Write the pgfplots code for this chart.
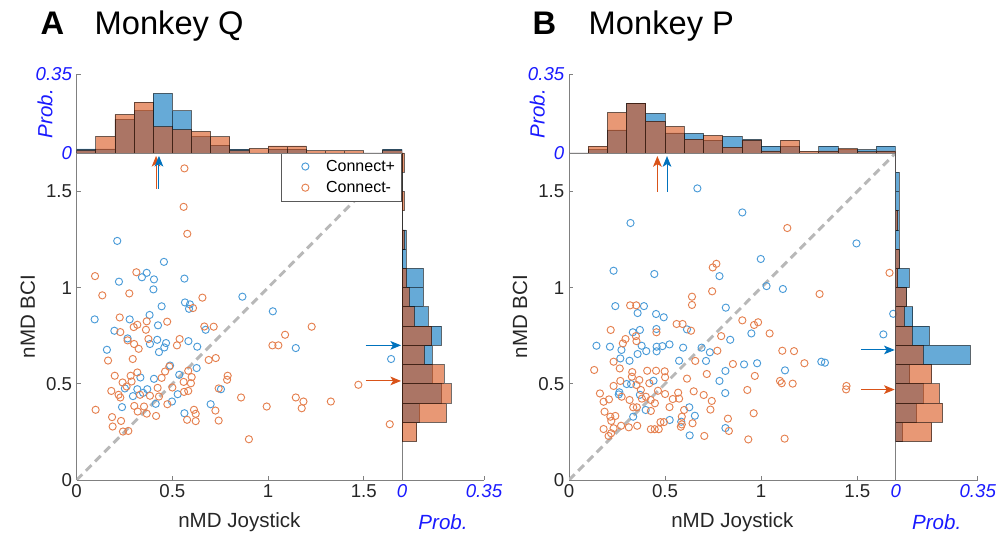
\documentclass[border=0pt]{standalone}
\usepackage{pgfplots}
\pgfplotsset{compat=1.18}
\usepackage{fontspec}
\setmainfont{Liberation Sans}
\usetikzlibrary{arrows.meta}
\definecolor{mblue}{rgb}{0,0.447,0.741}
\definecolor{morange}{rgb}{0.85,0.325,0.098}
\definecolor{sblue}{HTML}{4A9BD8}
\definecolor{sorange}{HTML}{E5804F}
\definecolor{pblue}{HTML}{1A1AFF}
\definecolor{axgray}{HTML}{808080}
\definecolor{txt}{HTML}{262626}

\pgfplotsset{
  every non boxed x axis/.style={enlarge x limits=false},
  every non boxed y axis/.style={enlarge y limits=false},
  base/.style={scale only axis, anchor=south west,
    axis x line=bottom, axis y line=left,
    tick align=inside, major tick length=3pt,
    axis line style={axgray, line width=0.6pt},
    x axis line style={-}, y axis line style={-},
    tick style={axgray, line width=0.6pt},
    /pgf/number format/assume math mode=true,
    ticklabel style={font=\fontsize{14}{16}\selectfont, text=txt},
  },
  main/.style={base, width=244pt, height=245.25pt, xmin=0,xmax=1.7,ymin=0,ymax=1.7,
    xtick={0,0.5,1,1.5}, ytick={0,0.5,1,1.5},
    xticklabels={0,0.5,1,1.5}, yticklabels={0,0.5,1,1.5},
    xlabel={nMD Joystick}, ylabel={nMD BCI},
    every axis x label/.style={at={(axis description cs:0.5,-0.128)}, anchor=center,
      font=\fontsize{15.4}{18}\selectfont, text=txt},
    every axis y label/.style={at={(axis description cs:-0.15,0.5)}, rotate=90, anchor=center,
      font=\fontsize{15.4}{18}\selectfont, text=txt},
  },
  tophist/.style={base, width=244pt, height=59.25pt, xmin=0,xmax=1.7,ymin=0,ymax=0.35,
    xtick=\empty, ytick={0,0.35}, yticklabels={0,0.35},
    yticklabel style={font=\itshape\fontsize{14}{16}\selectfont, text=pblue},
    ylabel={Prob.},
    every axis y label/.style={at={(axis description cs:-0.097,0.5)}, rotate=90, anchor=center,
      font=\itshape\fontsize{15.4}{18}\selectfont, text=pblue},
  },
  righthist/.style={base, width=61.5pt, height=245.25pt, xmin=0,xmax=0.35,ymin=0,ymax=1.7,
    ytick=\empty, xtick={0,0.35}, xticklabels={0,0.35},
    xticklabel style={font=\itshape\fontsize{14}{16}\selectfont, text=pblue},
    xlabel={Prob.},
    every axis x label/.style={at={(axis description cs:0.5,-0.13)}, anchor=center,
      font=\itshape\fontsize{15.4}{18}\selectfont, text=pblue},
  },
  hb/.style={fill=mblue, fill opacity=0.6, draw=black, draw opacity=0.55, line width=0.6pt},
  ho/.style={fill=morange, fill opacity=0.6, draw=black, draw opacity=0.55, line width=0.6pt},
  sb/.style={only marks, mark=o, mark size=2.7pt, sblue, mark options={line width=0.7pt}},
  so/.style={only marks, mark=o, mark size=2.7pt, sorange, mark options={line width=0.7pt}},
  diag/.style={forget plot, black!28, line width=2.2pt, dash pattern=on 6pt off 3.8pt},
  arr/.style={forget plot, line width=0.75pt, -{Stealth[length=8pt,width=6.5pt,inset=2pt]}},
}

\begin{document}
\begin{tikzpicture}
\path[use as bounding box] (0,0) rectangle (752.25pt,404.25pt);

% ===== Panel A =====
\node[anchor=base west, font=\bfseries\fontsize{24.5}{28}\selectfont] at (27pt,378.5pt) {A};
\node[anchor=base west, font=\fontsize{24.5}{28}\selectfont] at (67.5pt,378.5pt) {Monkey Q};

\begin{axis}[main, at={(57.5pt,44.25pt)},
  legend style={at={(1,1)}, anchor=north east, draw=black!65, fill=white,
    font=\fontsize{12}{14}\selectfont, row sep=2pt, inner xsep=3pt, inner ysep=3pt},
  legend image code/.code={\path (0cm,0cm) (1.0cm,0cm); \draw[#1] plot coordinates {(0.53cm,0cm)};},
  legend cell align=left]
\addplot[diag] coordinates {(0,0) (1.7,1.7)};
\addplot[sb] coordinates {
(0.212,1.243) (0.456,1.134) (0.221,1.031) (0.341,1.054) (0.366,1.077) (0.404,1.043)
(0.563,1.047) (0.401,0.991) (0.866,0.953) (0.444,0.903) (0.566,0.923) (0.592,0.913)
(0.587,0.89) (0.381,0.858) (1.025,0.877) (0.094,0.835) (0.277,0.835) (0.197,0.776)
(0.425,0.804) (0.266,0.736) (0.158,0.677) (0.674,0.781) (0.383,0.707) (0.421,0.729)
(0.467,0.712) (0.43,0.665) (0.458,0.689) (0.584,0.722) (0.63,0.693) (1.145,0.686)
(1.643,0.629) (0.488,0.595) (0.536,0.547) (0.627,0.582) (0.333,0.533) (0.404,0.526)
(0.252,0.476) (0.317,0.472) (0.369,0.472) (0.347,0.453) (0.294,0.436) (0.528,0.446)
(0.498,0.408) (0.413,0.396) (0.237,0.379) (0.754,0.472) (0.7,0.394) (0.563,0.347)
};
\addlegendentry{Connect+}
\addplot[so] coordinates {
(0.563,1.62) (0.559,1.42) (0.578,1.28) (0.096,1.06) (0.312,1.08) (0.134,0.96)
(0.275,0.97) (0.657,0.948) (0.608,0.894) (0.225,0.845) (0.366,0.825) (0.473,0.823)
(0.317,0.807) (0.298,0.795) (0.362,0.781) (0.228,0.769) (0.667,0.798) (0.716,0.797)
(1.228,0.797) (1.089,0.755) (1.023,0.7) (1.054,0.7) (0.266,0.726) (0.3,0.707)
(0.324,0.682) (0.375,0.733) (0.538,0.733) (0.524,0.7) (0.164,0.621) (0.293,0.629)
(0.69,0.624) (0.727,0.634) (0.199,0.542) (0.317,0.559) (0.282,0.542) (0.484,0.59)
(0.462,0.564) (0.444,0.531) (0.423,0.479) (0.583,0.568) (0.601,0.535) (0.559,0.51)
(0.597,0.503) (0.583,0.463) (0.561,0.458) (0.5,0.481) (0.789,0.542) (0.786,0.521)
(0.742,0.476) (0.24,0.507) (0.261,0.486) (0.287,0.512) (0.181,0.463) (0.219,0.443)
(0.228,0.429) (0.383,0.438) (0.331,0.443) (0.43,0.434) (0.301,0.385) (0.352,0.382)
(0.474,0.394) (0.099,0.365) (0.319,0.356) (0.366,0.345) (0.415,0.333) (0.185,0.327)
(0.232,0.307) (0.188,0.278) (0.242,0.252) (0.27,0.255) (0.613,0.365) (0.622,0.344)
(0.577,0.313) (0.622,0.306) (0.725,0.361) (0.742,0.309) (0.859,0.429) (0.993,0.382)
(0.9,0.212) (1.145,0.429) (1.185,0.408) (1.176,0.373) (1.328,0.408) (1.472,0.495)
(1.636,0.29)
};
\addlegendentry{Connect-}
\addplot[arr, morange] coordinates {(0.415,1.515) (0.415,1.685)};
\addplot[arr, mblue] coordinates {(0.43,1.515) (0.43,1.685)};
\addplot[arr, mblue] coordinates {(1.510,0.70) (1.695,0.70)};
\addplot[arr, morange] coordinates {(1.510,0.515) (1.695,0.515)};
\end{axis}

\begin{axis}[tophist, at={(57.5pt,289.5pt)}]
\addplot[ybar interval, hb] coordinates {
(0,0.018) (0.1,0.018) (0.2,0.149) (0.3,0.187) (0.4,0.264) (0.5,0.187) (0.6,0.073)
(0.7,0.035) (0.8,0.0175) (0.9,0) (1.0,0.0175) (1.1,0.0175) (1.2,0) (1.3,0) (1.4,0)
(1.5,0) (1.6,0.0175) (1.7,0.0175)};
\addplot[ybar interval, ho] coordinates {
(0,0.012) (0.1,0.074) (0.2,0.171) (0.3,0.225) (0.4,0.117) (0.5,0.104) (0.6,0.096)
(0.7,0.073) (0.8,0.01) (0.9,0.02) (1.0,0.031) (1.1,0.031) (1.2,0.01) (1.3,0.01) (1.4,0.01)
(1.5,0) (1.6,0.01) (1.7,0.01)};
\end{axis}

\begin{axis}[righthist, at={(301.5pt,44.25pt)}]
\addplot[xbar interval, hb] coordinates {
(0,0.2) (0.074,0.3) (0.169,0.4) (0.129,0.5) (0.129,0.6) (0.168,0.7) (0.112,0.8)
(0.091,0.9) (0.091,1.0) (0.0175,1.1) (0.0175,1.2) (0,1.3) (0,1.4) (0,1.5) (0,1.6) (0,1.7)};
\addplot[xbar interval, ho] coordinates {
(0.063,0.2) (0.189,0.3) (0.21,0.4) (0.179,0.5) (0.095,0.6) (0.127,0.7) (0.053,0.8)
(0.031,0.9) (0.02,1.0) (0,1.1) (0.01,1.2) (0,1.3) (0.01,1.4) (0,1.5) (0.01,1.6) (0.01,1.7)};
\end{axis}

% ===== Panel B =====
\node[anchor=base west, font=\bfseries\fontsize{24.5}{28}\selectfont] at (396pt,378.5pt) {B};
\node[anchor=base west, font=\fontsize{24.5}{28}\selectfont] at (438pt,378.5pt) {Monkey P};

\begin{axis}[main, at={(426.75pt,44.25pt)}, width=245pt]
\addplot[diag] coordinates {(0,0) (1.7,1.7)};
\addplot[sb] coordinates {
(0.668,1.516) (0.902,1.391) (0.32,1.336) (1.496,1.23) (0.998,1.149) (0.232,1.088)
(0.444,1.071) (0.783,1.06) (1.028,1.008) (1.113,0.993) (0.241,0.904) (0.39,0.904)
(0.357,0.868) (0.453,0.863) (0.493,0.846) (0.816,0.896) (1.687,0.864) (1.636,0.757)
(0.332,0.768) (0.369,0.78) (0.455,0.785) (0.614,0.783) (0.839,0.729) (0.949,0.762)
(0.143,0.698) (0.213,0.693) (0.273,0.676) (0.378,0.698) (0.402,0.67) (0.456,0.693)
(0.486,0.696) (0.523,0.705) (0.456,0.669) (0.594,0.688) (0.69,0.688) (0.733,0.664)
(0.315,0.62) (0.357,0.655) (0.573,0.62) (0.713,0.619) (0.911,0.601) (0.979,0.607)
(1.313,0.615) (1.332,0.61) (1.124,0.57) (0.814,0.567) (0.783,0.515) (0.3,0.499)
(0.323,0.499) (0.44,0.516) (0.262,0.456) (0.259,0.445) (0.369,0.443) (0.813,0.452)
(0.626,0.378) (0.655,0.334) (0.524,0.312) (0.584,0.303) (0.399,0.364) (0.334,0.329)
(0.814,0.27) (0.628,0.232) (0.267,0.632)
};
\addplot[so] coordinates {
(1.136,1.31) (1.668,1.077) (0.748,1.105) (0.767,1.124) (0.745,0.981) (0.64,0.953)
(0.64,0.91) (0.318,0.908) (0.35,0.908) (1.304,0.967) (0.902,0.83) (0.963,0.806)
(0.984,0.82) (0.56,0.811) (0.591,0.811)
(0.217,0.78) (0.294,0.733) (0.28,0.71) (0.348,0.748) (0.351,0.722) (0.455,0.768)
(0.635,0.776) (1.044,0.762) (0.792,0.748) (1.11,0.672) (1.171,0.67) (1.225,0.607)
(0.772,0.672) (0.657,0.619) (0.853,0.603) (0.717,0.551) (0.967,0.541) (1.098,0.515)
(1.107,0.503) (1.164,0.501) (0.928,0.468) (1.444,0.489) (1.442,0.471) (0.614,0.527)
(0.649,0.461) (0.701,0.442) (0.743,0.411) (0.736,0.366) (0.827,0.319) (0.832,0.255)
(0.961,0.347) (0.704,0.229) (0.933,0.211) (1.122,0.215) (0.131,0.572) (0.232,0.615)
(0.264,0.58) (0.329,0.561) (0.366,0.52) (0.407,0.568) (0.453,0.568) (0.498,0.565)
(0.5,0.534) (0.418,0.503) (0.463,0.464) (0.5,0.447) (0.54,0.421) (0.568,0.454)
(0.573,0.423) (0.523,0.379) (0.599,0.364) (0.587,0.329) (0.587,0.289) (0.643,0.295)
(0.476,0.301) (0.494,0.301) (0.426,0.264) (0.446,0.264) (0.467,0.264) (0.582,0.277)
(0.161,0.45) (0.18,0.407) (0.208,0.419) (0.232,0.489) (0.267,0.515) (0.274,0.433)
(0.315,0.416) (0.334,0.378) (0.353,0.378) (0.379,0.423) (0.425,0.416) (0.447,0.399)
(0.426,0.359) (0.185,0.355) (0.215,0.329) (0.241,0.333) (0.22,0.307) (0.18,0.265)
(0.232,0.269) (0.271,0.282) (0.311,0.274) (0.355,0.282) (0.206,0.229) (0.219,0.243)
(0.374,0.468) (0.4,0.433) (0.351,0.494) (0.327,0.537)
};
\addplot[arr, morange] coordinates {(0.46,1.498) (0.46,1.684)};
\addplot[arr, mblue] coordinates {(0.51,1.498) (0.51,1.684)};
\addplot[arr, mblue] coordinates {(1.52,0.676) (1.695,0.676)};
\addplot[arr, morange] coordinates {(1.52,0.47) (1.695,0.47)};
\end{axis}

\begin{axis}[tophist, at={(426.75pt,289.5pt)}, width=245pt]
\addplot[ybar interval, hb] coordinates {
(0,0) (0.1,0.0145) (0.2,0.102) (0.3,0.221) (0.4,0.176) (0.5,0.089) (0.6,0.087)
(0.7,0.057) (0.8,0.074) (0.9,0.06) (1.0,0.0305) (1.1,0.0305) (1.2,0) (1.3,0.0305)
(1.4,0.0145) (1.5,0.0145) (1.6,0.0305) (1.7,0.0305)};
\addplot[ybar interval, ho] coordinates {
(0,0) (0.1,0.0305) (0.2,0.18) (0.3,0.221) (0.4,0.141) (0.5,0.118) (0.6,0.061)
(0.7,0.078) (0.8,0.026) (0.9,0.057) (1.0,0.009) (1.1,0.057) (1.2,0.008) (1.3,0.009)
(1.4,0.019) (1.5,0.006) (1.6,0.009) (1.7,0.009)};
\end{axis}

\begin{axis}[righthist, at={(671.8pt,44.25pt)}]
\addplot[xbar interval, hb] coordinates {
(0.029,0.2) (0.089,0.3) (0.117,0.4) (0.06,0.5) (0.319,0.6) (0.144,0.7) (0.073,0.8)
(0.044,0.9) (0.057,1.0) (0.014,1.1) (0.014,1.2) (0.014,1.3) (0.014,1.4) (0.014,1.5)
(0,1.6) (0,1.7)};
\addplot[xbar interval, ho] coordinates {
(0.154,0.2) (0.2,0.3) (0.186,0.4) (0.154,0.5) (0.117,0.6) (0.07,0.7) (0.037,0.8)
(0.044,0.9) (0.009,1.0) (0.014,1.1) (0,1.2) (0.009,1.3) (0,1.4) (0,1.5) (0,1.6) (0,1.7)};
\end{axis}
\end{tikzpicture}
\end{document}
